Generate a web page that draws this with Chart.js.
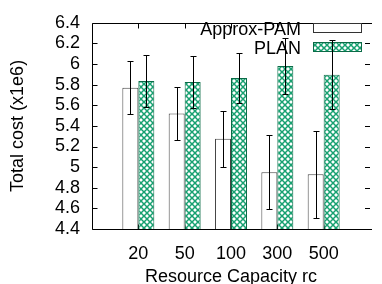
<!DOCTYPE html>
<html><head><meta charset="utf-8">
<script src="https://cdn.jsdelivr.net/npm/chart.js@4"></script>
<style>html,body{margin:0;padding:0;overflow:hidden;background:#fff;width:382px;height:284px}canvas{display:block}</style>
</head><body>
<canvas id="c" width="384" height="290"></canvas>
<script>
const categories = ['20', '50', '100', '300', '500'];
const approxValues = [5.77, 5.52, 5.275, 4.95, 4.93];
const approxErrors = [0.255, 0.26, 0.27, 0.36, 0.42];
const planValues = [5.835, 5.825, 5.865, 5.98, 5.895];
const planErrors = [0.255, 0.255, 0.245, 0.275, 0.335];
const yTickMin = 4.4, yTickMax = 6.4, yTickStep = 0.2;
const seriesNames = ['Approx-PAM', 'PLAN'];

const FONT = "'Liberation Sans', Arial, Helvetica, sans-serif";

function makePattern() {
  const s = 6;
  const pc = document.createElement('canvas');
  pc.width = s; pc.height = s;
  const g = pc.getContext('2d');
  g.fillStyle = '#fff'; g.fillRect(0, 0, s, s);
  g.strokeStyle = '#16a070'; g.lineWidth = 1.5;
  g.beginPath();
  g.moveTo(-1, -1); g.lineTo(s + 1, s + 1);
  g.moveTo(s + 1, -1); g.lineTo(-1, s + 1);
  g.stroke();
  return g.createPattern(pc, 'repeat');
}
const pattern = makePattern();

const labels = [''].concat(categories, ['']);
const pad = a => [null].concat(a, [null]);
const errs = [approxErrors, planErrors];

const frame = {
  id: 'frame',
  beforeDatasetsDraw(chart) {
    const {ctx, chartArea: a, scales} = chart;
    ctx.save();
    ctx.strokeStyle = '#000'; ctx.lineWidth = 1;
    ctx.beginPath();
    const L = Math.round(a.left) + 0.5, T = Math.round(a.top) + 0.5, B = Math.round(a.bottom) + 0.5, R = a.right;
    ctx.moveTo(R + 2, T); ctx.lineTo(L, T); ctx.lineTo(L, B); ctx.lineTo(R + 2, B);
    scales.y.ticks.forEach(t => {
      const y = Math.round(scales.y.getPixelForValue(t.value)) + 0.5;
      ctx.moveTo(L, y); ctx.lineTo(L + 5, y);
      ctx.moveTo(R - 5, y); ctx.lineTo(R, y);
    });
    categories.forEach((c, i) => {
      const x = Math.round(scales.x.getPixelForValue(i + 1)) + 0.5;
      ctx.moveTo(x, T); ctx.lineTo(x, T + 5);
      ctx.moveTo(x, B); ctx.lineTo(x, B - 5);
    });
    ctx.stroke();
    ctx.font = '18px ' + FONT;
    ctx.fillStyle = '#000';
    ctx.textAlign = 'right'; ctx.textBaseline = 'middle';
    const boxes = [
      {y: 23, fill: '#fff', stroke: '#333'},
      {y: 42, fill: pattern, stroke: '#0b6b47'}
    ];
    seriesNames.forEach((n, i) => {
      const b = boxes[i];
      ctx.fillText(n, 301, b.y + 7);
      ctx.fillStyle = b.fill;
      ctx.fillRect(313, b.y, 49, 10);
      ctx.strokeStyle = b.stroke; ctx.lineWidth = 1;
      ctx.strokeRect(313.5, b.y + 0.5, 48, 9);
      ctx.fillStyle = '#000';
    });
    ctx.restore();
  },
  afterDatasetsDraw(chart) {
    const {ctx, scales} = chart;
    ctx.save();
    ctx.strokeStyle = '#000'; ctx.lineWidth = 1;
    ctx.beginPath();
    chart.data.datasets.forEach((ds, di) => {
      const meta = chart.getDatasetMeta(di);
      meta.data.forEach((el, j) => {
        const v = ds.data[j];
        if (v == null) return;
        const e = errs[di][j - 1];
        const x = Math.round(el.x) + 0.5;
        const yt = Math.round(scales.y.getPixelForValue(v + e)) + 0.5;
        const yb = Math.round(scales.y.getPixelForValue(v - e)) + 0.5;
        ctx.moveTo(x, yt); ctx.lineTo(x, yb);
        ctx.moveTo(x - 3, yt); ctx.lineTo(x + 3, yt);
        ctx.moveTo(x - 3, yb); ctx.lineTo(x + 3, yb);
      });
    });
    ctx.stroke();
    ctx.restore();
  }
};

new Chart(document.getElementById('c'), {
  type: 'bar',
  data: {
    labels: labels,
    datasets: [
      {label: seriesNames[0], data: pad(approxValues), backgroundColor: '#fff', borderColor: '#444', borderWidth: 1,
       categoryPercentage: 0.69, barPercentage: 1.0},
      {label: seriesNames[1], data: pad(planValues), backgroundColor: pattern, borderColor: '#0b6b47', borderWidth: 1,
       categoryPercentage: 0.69, barPercentage: 1.0}
    ]
  },
  options: {
    responsive: false,
    animation: false,
    devicePixelRatio: 1,
    layout: {padding: {top: 15, left: 0, right: 0, bottom: 0}},
    plugins: {legend: {display: false}, tooltip: {enabled: false}},
    scales: {
      x: {
        type: 'category',
        offset: false,
        grid: {display: false, drawTicks: false},
        border: {display: false},
        ticks: {font: {family: FONT, size: 18}, color: '#000', padding: 14, maxRotation: 0, autoSkip: false},
        title: {display: true, text: 'Resource Capacity rc', font: {family: FONT, size: 18}, color: '#000', padding: {top: 4, bottom: 2}},
        afterFit(s) { s.height = 61; }
      },
      y: {
        min: yTickMin, max: yTickMax,
        grid: {display: false, drawTicks: false},
        border: {display: false},
        ticks: {stepSize: yTickStep, autoSkip: false, font: {family: FONT, size: 18}, color: '#000', padding: 12,
          callback: v => String(parseFloat(v.toFixed(1)))},
        title: {display: true, text: 'Total cost (x1e6)', font: {family: FONT, size: 18}, color: '#000', padding: {top: 7, bottom: 0}},
        afterFit(s) { s.width = 92; }
      }
    }
  },
  plugins: [frame]
});
</script>
</body></html>
